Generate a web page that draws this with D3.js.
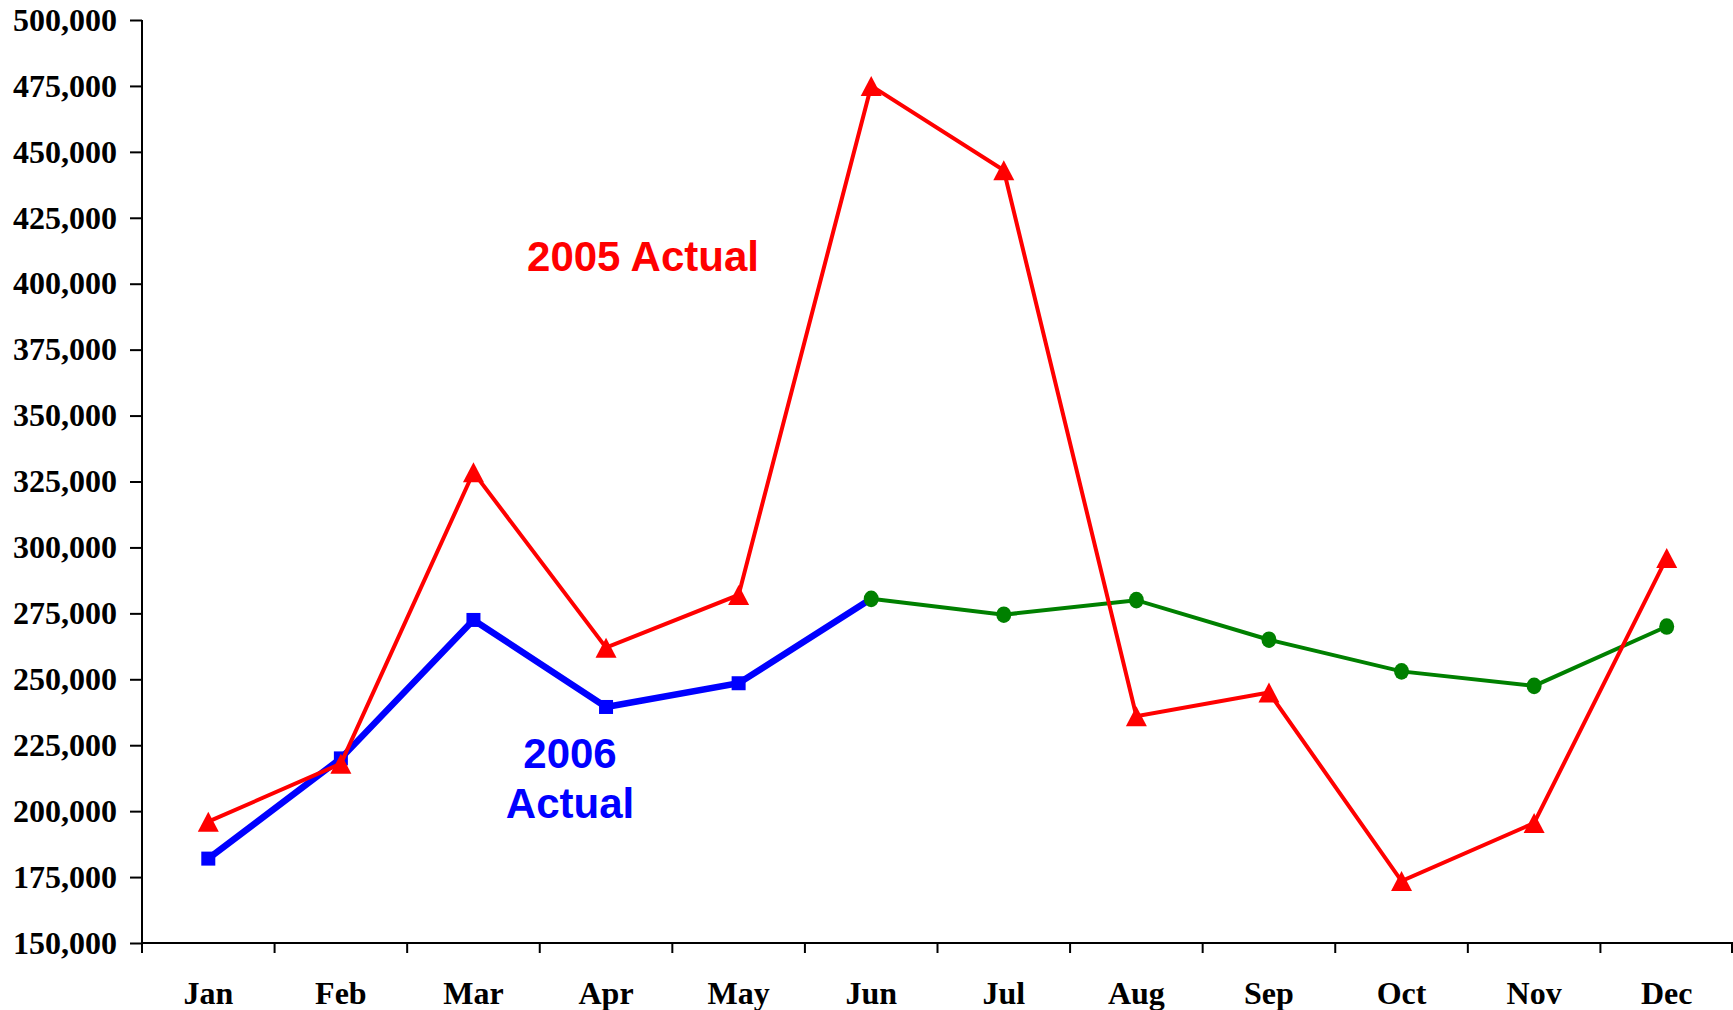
<!DOCTYPE html>
<html>
<head>
<meta charset="utf-8">
<script src="https://cdn.jsdelivr.net/npm/d3@7/dist/d3.min.js"></script>
<style>
  html, body { margin: 0; padding: 0; background: #ffffff; }
  svg { display: block; }
</style>
</head>
<body>
<svg id="chart" width="1733" height="1010"></svg>
<script>
// Monthly totals: 2005 actuals, 2006 actuals (Jan–Jun) and 2006 outlook (Jun–Dec)
const months = ["Jan", "Feb", "Mar", "Apr", "May", "Jun", "Jul", "Aug", "Sep", "Oct", "Nov", "Dec"];
const actual2005 = [196000, 218000, 328500, 262000, 282000, 475000, 443000, 236000, 245000, 173500, 195500, 296000];
const actual2006 = [182000, 220000, 272500, 239500, 248500, 280500, null, null, null, null, null, null];
const outlook2006 = [null, null, null, null, null, 280500, 274500, 280000, 265000, 253000, 247500, 270000];
const yTicks = [150000, 175000, 200000, 225000, 250000, 275000, 300000, 325000, 350000, 375000, 400000, 425000, 450000, 475000, 500000];

const svg = d3.select("#chart");
const W = 1733, H = 1010;
const plotLeft = 142, plotRight = 1733, plotTop = 20, plotBottom = 943;

svg.append("rect").attr("width", W).attr("height", H).attr("fill", "#ffffff");

const x = d3.scaleBand().domain(months).range([plotLeft, plotRight]).padding(0);
const y = d3.scaleLinear().domain([150000, 500000]).range([plotBottom, plotTop]);
const cx = m => x(m) + x.bandwidth() / 2;

const serif = "'Liberation Serif', 'Times New Roman', serif";
const sans = "'Liberation Sans', Arial, sans-serif";

// Y axis
const yAxis = d3.axisLeft(y)
  .tickValues(yTicks)
  .tickFormat(d3.format(","))
  .tickSize(12)
  .tickSizeOuter(0)
  .tickPadding(13);
const gy = svg.append("g").attr("transform", `translate(${plotLeft},0)`).call(yAxis);
gy.select(".domain").remove();
gy.selectAll(".tick line").attr("stroke", "#000").attr("stroke-width", 2);
gy.selectAll(".tick text")
  .attr("fill", "#000")
  .style("font-family", serif)
  .style("font-weight", "bold")
  .style("font-size", "32px");
// vertical axis line, extended down through the category axis tick
svg.append("line")
  .attr("x1", plotLeft).attr("x2", plotLeft)
  .attr("y1", plotTop).attr("y2", plotBottom + 10)
  .attr("stroke", "#000").attr("stroke-width", 2);

// X axis: line, boundary ticks between categories, centred labels
svg.append("line")
  .attr("x1", plotLeft).attr("x2", plotRight)
  .attr("y1", plotBottom).attr("y2", plotBottom)
  .attr("stroke", "#000").attr("stroke-width", 2);
const boundaries = months.map(m => x(m)).concat([x(months[months.length - 1]) + x.bandwidth()]);
svg.append("g").selectAll("line")
  .data(boundaries.slice(1))
  .join("line")
  .attr("x1", d => Math.min(d, plotRight - 1)).attr("x2", d => Math.min(d, plotRight - 1))
  .attr("y1", plotBottom).attr("y2", plotBottom + 10)
  .attr("stroke", "#000").attr("stroke-width", 2);

const xAxis = d3.axisBottom(x).tickSize(0).tickPadding(38);
const gx = svg.append("g").attr("transform", `translate(0,${plotBottom})`).call(xAxis);
gx.select(".domain").remove();
gx.selectAll(".tick text")
  .attr("fill", "#000")
  .style("font-family", serif)
  .style("font-weight", "bold")
  .style("font-size", "32px");

// Series lines
const line = d3.line()
  .defined(d => d.v !== null)
  .x(d => cx(d.m))
  .y(d => y(d.v));
const pts = arr => months.map((m, i) => ({ m, v: arr[i] }));

const plot = svg.append("g");

// 2006 actual (blue, squares); the hand-off month carries the outlook marker
plot.append("path")
  .datum(pts(actual2006))
  .attr("d", line)
  .attr("fill", "none")
  .attr("stroke", "#0000ff")
  .attr("stroke-width", 6.5)
  .attr("stroke-linejoin", "miter");
const sq = 14;
plot.append("g").selectAll("rect")
  .data(pts(actual2006).filter((d, i) => d.v !== null && outlook2006[i] === null))
  .join("rect")
  .attr("x", d => cx(d.m) - sq / 2)
  .attr("y", d => y(d.v) - sq / 2)
  .attr("width", sq).attr("height", sq)
  .attr("fill", "#0000ff");

// 2006 outlook (green, circles)
plot.append("path")
  .datum(pts(outlook2006))
  .attr("d", line)
  .attr("fill", "none")
  .attr("stroke", "#008000")
  .attr("stroke-width", 4);
plot.append("g").selectAll("ellipse")
  .data(pts(outlook2006).filter(d => d.v !== null))
  .join("ellipse")
  .attr("cx", d => cx(d.m))
  .attr("cy", d => y(d.v))
  .attr("rx", 7.5).attr("ry", 8.3)
  .attr("fill", "#008000");

// 2005 actual (red, triangles)
plot.append("path")
  .datum(pts(actual2005))
  .attr("d", line)
  .attr("fill", "none")
  .attr("stroke", "#ff0000")
  .attr("stroke-width", 4)
  .attr("stroke-linejoin", "miter");
const tw = 21, th = 20;
plot.append("g").selectAll("path")
  .data(pts(actual2005))
  .join("path")
  .attr("transform", d => `translate(${cx(d.m)},${y(d.v)})`)
  .attr("d", `M0,${-th / 2} L${tw / 2},${th / 2} L${-tw / 2},${th / 2} Z`)
  .attr("fill", "#ff0000");

// Series annotations
svg.append("text")
  .attr("x", 643).attr("y", 271)
  .attr("text-anchor", "middle")
  .attr("fill", "#ff0000")
  .style("font-family", sans).style("font-weight", "bold").style("font-size", "42px")
  .text("2005 Actual");

const lbl2006 = svg.append("text")
  .attr("text-anchor", "middle")
  .attr("fill", "#0000ff")
  .style("font-family", sans).style("font-weight", "bold").style("font-size", "42px");
lbl2006.append("tspan").attr("x", 570).attr("y", 768).text("2006");
lbl2006.append("tspan").attr("x", 570).attr("y", 818).text("Actual");
</script>
</body>
</html>
